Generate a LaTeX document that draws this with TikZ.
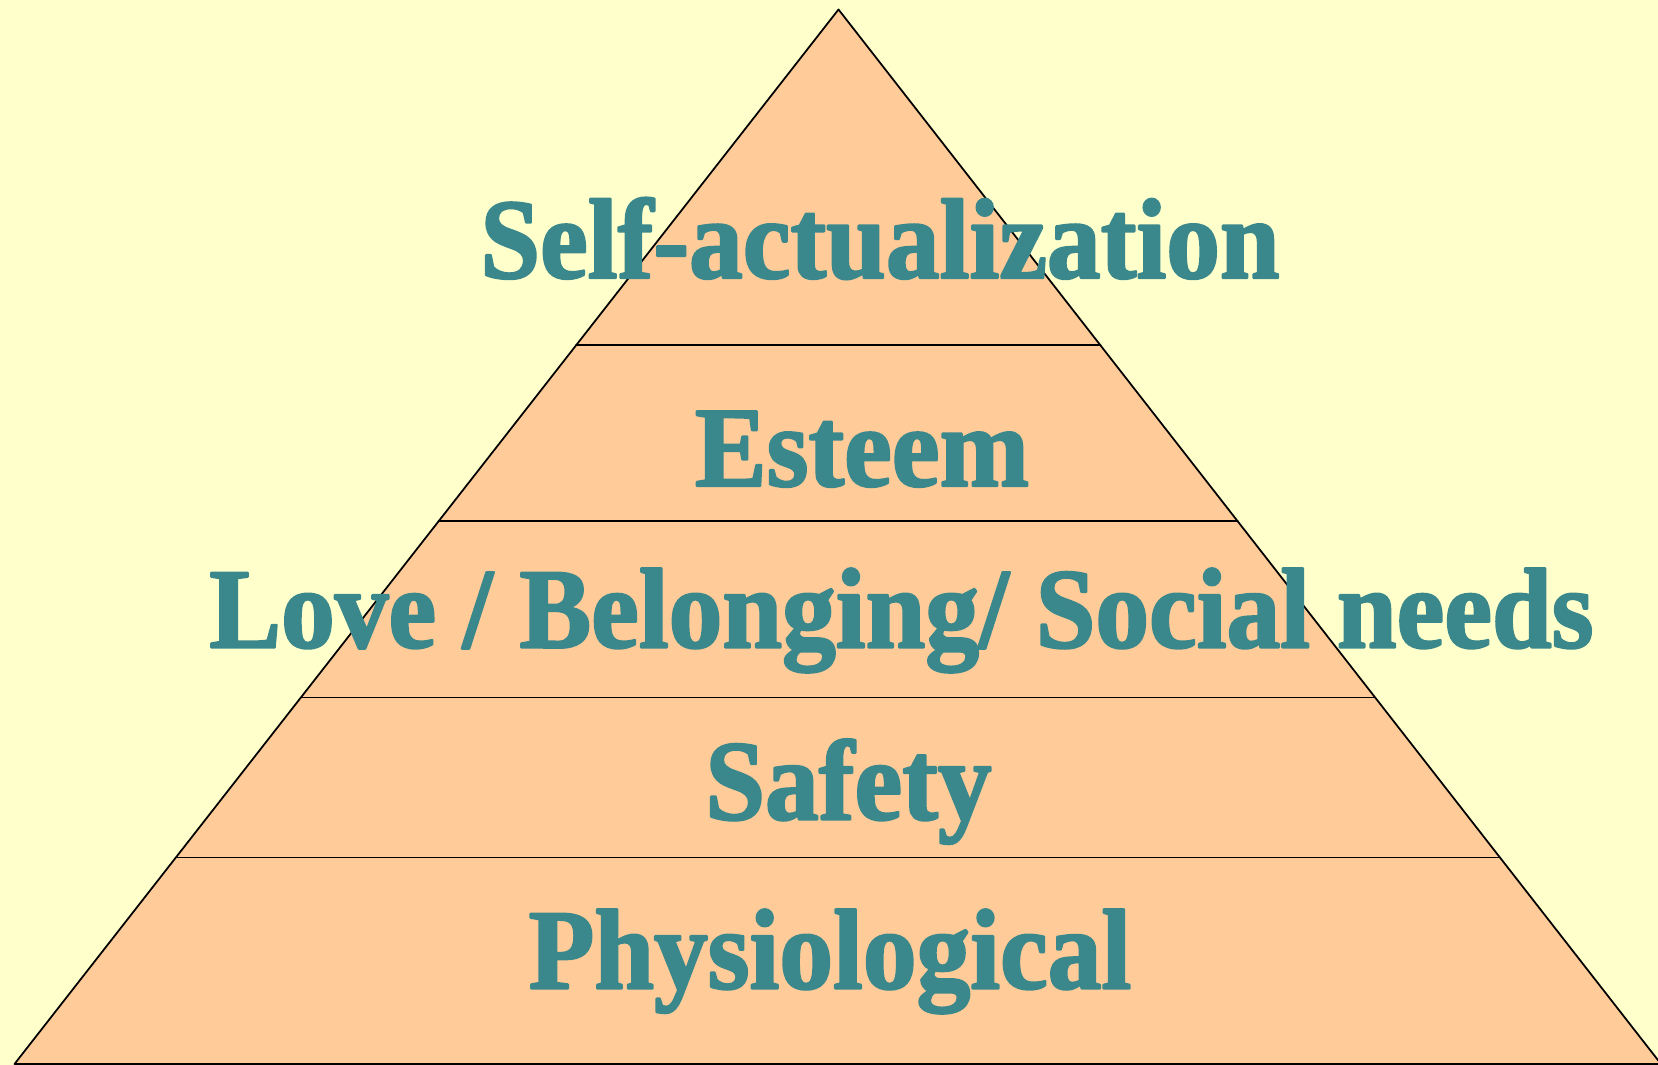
\documentclass[tikz,border=0pt]{standalone}
\usepackage{fontspec}
\newfontfamily\tierfont[FakeStretch=0.94,FakeBold=2]{Liberation Serif}
\usetikzlibrary{calc}
\definecolor{PyramidBack}{HTML}{FFFFCC}
\definecolor{PyramidFill}{HTML}{FFCC99}
\definecolor{PyramidText}{HTML}{3B888C}
\tikzset{tier/.style={text=PyramidText,anchor=base,inner sep=0pt,
    font=\tierfont\bfseries\fontsize{65}{70}\selectfont}}

\begin{document}
\begin{tikzpicture}[line cap=round,line join=round]
  \fill[PyramidBack] (0,0) rectangle (33.16,21.30);
  \useasboundingbox (0,0) rectangle (33.16,21.30);
  \coordinate (A) at (16.77,21.11);
  \coordinate (B) at (0.29,0.02);
  \coordinate (C) at (33.22,0.02);
  \draw[fill=PyramidFill,line width=1pt] (A)--(B)--(C)--cycle;
  % level separators
  \foreach \t in {0.3184,0.4854,0.6524,0.8042}{
    \draw[line width=1pt] ($(A)!\t!(B)$)--($(A)!\t!(C)$);}
  \node[tier] (selfact) at (17.60,15.74) {Self-actualization};
  \node[tier] (esteem) at (17.24,11.58) {Esteem};
  \node[tier] (love) at (18.03,8.35) {Love / Belonging/ Social needs};
  \node[tier] (safety) at (16.97,4.91) {Safety};
  \node[tier] (physio) at (16.60,1.53) {Physiological};
\end{tikzpicture}
\end{document}
